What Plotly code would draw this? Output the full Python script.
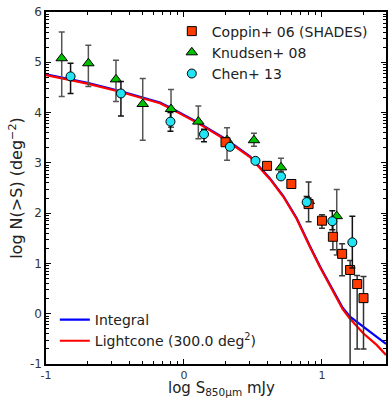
import numpy as np
import plotly.graph_objects as go

# ---- model curves (log S [mJy], log N(>S) [deg^-2]) ----
curve_logS = [-1.0, -0.7, -0.464, -0.174, -0.094, 0.104, 0.304, 0.478, 0.623, 0.72,
              0.817, 0.889, 0.913, 0.986, 1.05, 1.107, 1.15, 1.203, 1.25, 1.299, 1.35, 1.396, 1.464]
integral_logN = [4.76, 4.59, 4.43, 4.20, 4.09, 3.80, 3.47, 3.13, 2.69, 2.34,
                 1.90, 1.47, 1.34, 0.94, 0.62, 0.34, 0.12, -0.06, -0.16, -0.26, -0.36, -0.46, -0.60]
lightcone_logN = [4.745, 4.575, 4.415, 4.185, 4.075, 3.785, 3.455, 3.115, 2.675, 2.325,
                  1.885, 1.455, 1.325, 0.925, 0.605, 0.32, 0.09, -0.10, -0.25, -0.39, -0.51, -0.62, -0.82]

# ---- Coppin+ 06 (SHADES) ----
coppin_logS = [0.301, 0.602, 0.778, 0.903, 1.0, 1.079, 1.146, 1.204, 1.255, 1.301]
coppin_logN = [3.41, 2.94, 2.58, 2.18, 1.85, 1.53, 1.19, 0.87, 0.59, 0.31]
coppin_hi = [3.41, 2.94, 2.58, 2.62, 1.97, 1.85, 1.39, 1.06, 0.76, 0.74]
coppin_lo = [3.41, 2.94, 2.58, 1.83, 1.70, 1.27, 0.755, -2.0, -0.70, -0.70]

# ---- Knudsen+ 08 ----
knudsen_logS = [-0.886, -0.693, -0.493, -0.299, -0.094, 0.104, 0.312, 0.507, 0.703, 0.904, 1.107]
knudsen_logN = [5.08, 4.98, 4.66, 4.17, 4.07, 3.82, 3.45, 3.45, 2.91, 2.24, 1.94]
knudsen_hi = [5.60, 5.34, 5.04, 4.68, 4.46, 4.13, 3.70, 3.59, 3.09, 2.30, 2.47]
knudsen_lo = [4.32, 4.52, 4.22, 3.45, 3.71, 3.48, 3.05, 3.33, 2.83, 2.18, 1.17]

# ---- Chen+ 13 ----
chen_logS = [-0.822, -0.457, -0.098, 0.145, 0.333, 0.518, 0.703, 0.889, 1.075, 1.22]
chen_logN = [4.72, 4.38, 3.82, 3.57, 3.32, 3.04, 2.73, 2.22, 1.84, 1.42]
chen_hi = [4.98, 4.62, 4.00, 3.67, 3.36, 3.08, 2.78, 2.33, 2.05, 1.94]
chen_lo = [4.38, 3.93, 3.63, 3.42, 3.28, 3.00, 2.68, 2.15, 1.67, 0.91]

x_ticks = [-1, 0, 1]
y_ticks = [-1, 0, 1, 2, 3, 4, 5, 6]


def minor_positions(lo, hi):
    out = []
    for n in range(int(np.floor(lo)) - 1, int(np.ceil(hi)) + 1):
        for k in range(2, 10):
            v = n + np.log10(k)
            if lo < v < hi:
                out.append(float(v))
    return out


def err(y, hi, lo):
    y = np.array(y); hi = np.array(hi); lo = np.array(lo)
    return dict(type="data", symmetric=False, array=(hi - y).tolist(),
                arrayminus=(y - lo).tolist(), thickness=1.5, width=3)


fig = go.Figure()

fig.add_trace(go.Scatter(x=curve_logS, y=integral_logN, mode="lines", name="Integral",
                         line=dict(color="#0000ff", width=2.2), legend="legend2"))
fig.add_trace(go.Scatter(x=curve_logS, y=lightcone_logN, mode="lines",
                         name="Lightcone (300.0 deg<sup>2</sup>)",
                         line=dict(color="#ff0000", width=2.2), legend="legend2"))

e = err(knudsen_logN, knudsen_hi, knudsen_lo); e["color"] = "#555555"
fig.add_trace(go.Scatter(x=knudsen_logS, y=knudsen_logN, mode="markers", name="Knudsen+ 08",
                         error_y=e, showlegend=False,
                         marker=dict(symbol="triangle-up", size=10, color="#00c000",
                                     line=dict(color="black", width=1))))
e = err(coppin_logN, coppin_hi, coppin_lo); e["color"] = "#333333"
fig.add_trace(go.Scatter(x=coppin_logS, y=coppin_logN, mode="markers", name="Coppin+ 06 (SHADES)",
                         error_y=e, showlegend=False,
                         marker=dict(symbol="square", size=9, color="#ff3c00",
                                     line=dict(color="black", width=1))))
e = err(chen_logN, chen_hi, chen_lo); e["color"] = "#111111"
fig.add_trace(go.Scatter(x=chen_logS, y=chen_logN, mode="markers", name="Chen+ 13",
                         error_y=e, showlegend=False,
                         marker=dict(symbol="circle", size=9, color="#22e4f4",
                                     line=dict(color="black", width=1))))

# legend-only entries for the marker legend (in order)
fig.add_trace(go.Scatter(x=[None], y=[None], mode="markers", name="Coppin+ 06 (SHADES)",
                         marker=dict(symbol="square", size=9, color="#ff3c00",
                                     line=dict(color="black", width=1)), legend="legend"))
fig.add_trace(go.Scatter(x=[None], y=[None], mode="markers", name="Knudsen+ 08",
                         marker=dict(symbol="triangle-up", size=10, color="#00c000",
                                     line=dict(color="black", width=1)), legend="legend"))
fig.add_trace(go.Scatter(x=[None], y=[None], mode="markers", name="Chen+ 13",
                         marker=dict(symbol="circle", size=9, color="#22e4f4",
                                     line=dict(color="black", width=1)), legend="legend"))

font_family = "DejaVu Sans"
axis_common = dict(showline=True, linecolor="black", linewidth=1.5, mirror="allticks",
                   ticks="inside", ticklen=5, tickwidth=1, tickcolor="black",
                   showgrid=False, zeroline=False)

fig.update_xaxes(range=[-1, 1.464], tickvals=x_ticks, ticktext=[str(v) for v in x_ticks],
                 tickfont=dict(family=font_family, size=11, color="#333333"),
                 minor=dict(tickvals=minor_positions(-1, 1.464), ticks="inside", ticklen=3,
                            tickcolor="black", showgrid=False),
                 **axis_common)
fig.update_yaxes(range=[-1, 6], tickvals=y_ticks, ticktext=[str(v) for v in y_ticks],
                 tickfont=dict(family=font_family, size=12, color="#333333"),
                 minor=dict(tickvals=minor_positions(-1, 6), ticks="inside", ticklen=3,
                            tickcolor="black", showgrid=False),
                 title=dict(text="log N(>S) (deg<sup>−2</sup>)", standoff=3,
                            font=dict(family=font_family, size=16, color="#222222")),
                 **axis_common)

# x-axis title as a paper annotation (placed just below the tick labels)
fig.add_annotation(text="log S<sub>850μm</sub> mJy", xref="paper", yref="paper",
                   x=0.515, y=-0.040, xanchor="center", yanchor="top", showarrow=False,
                   borderpad=0,
                   font=dict(family=font_family, size=15, color="#222222"))

fig.update_layout(
    width=388, height=399,
    margin=dict(l=46, r=2, t=12, b=35, autoexpand=False),
    plot_bgcolor="white", paper_bgcolor="white",
    font=dict(family=font_family, color="#222222"),
    legend=dict(x=0.37, y=0.99, xanchor="left", yanchor="top", bgcolor="rgba(0,0,0,0)",
                font=dict(family=font_family, size=14, color="#222222"),
                itemwidth=30, tracegroupgap=0),
    legend2=dict(x=0.026, y=0.02, xanchor="left", yanchor="bottom", bgcolor="rgba(0,0,0,0)",
                 font=dict(family=font_family, size=14, color="#222222"),
                 itemwidth=30, tracegroupgap=0),
)

fig.write_html("out.html", config={"displayModeBar": False},
               post_script="document.body.style.margin='0';document.body.style.padding='0';"
                           "document.documentElement.style.overflow='hidden';")
